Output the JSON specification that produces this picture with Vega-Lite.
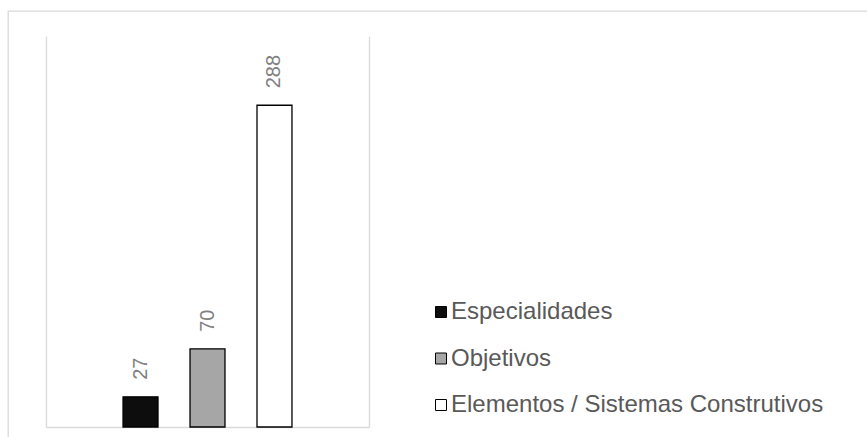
{
  "$schema": "https://vega.github.io/schema/vega-lite/v6.json",
  "width": 870,
  "height": 440,
  "autosize": {"type": "none"},
  "padding": {"left": 8, "top": 11, "right": 0, "bottom": 0},
  "background": "white",
  "data": {"values": [
    {"serie": "Especialidades", "valor": 27},
    {"serie": "Objetivos", "valor": 70},
    {"serie": "Elementos / Sistemas Construtivos", "valor": 288}
  ]},
  "encoding": {
    "x": {"field": "serie", "type": "nominal", "sort": null,
      "scale": {"domain": [" ", "Especialidades", "Objetivos", "Elementos / Sistemas Construtivos", "  "], "range": [38, 361], "paddingInner": 0.478, "paddingOuter": 0.15},
      "axis": {"orient": "bottom", "offset": -24, "labels": false, "ticks": false, "title": null, "domainColor": "#d9d9d9", "domainWidth": 1.3, "grid": false}}
  },
  "layer": [
    {
      "mark": {"type": "bar", "stroke": "#000000", "strokeWidth": 1.3},
      "encoding": {
        "y": {"field": "valor", "type": "quantitative",
          "scale": {"domain": [0, 350], "range": [416, 25], "nice": false},
          "axis": {"orient": "left", "offset": -38, "labels": false, "ticks": false, "title": null, "grid": false, "domainColor": "#d9d9d9", "domainWidth": 1.3}},
        "fill": {"field": "serie", "type": "nominal", "sort": null,
          "scale": {"domain": ["Especialidades", "Objetivos", "Elementos / Sistemas Construtivos"], "range": ["#0d0d0d", "#a6a6a6", "#ffffff"]},
          "legend": {"orient": "none", "legendX": 421, "legendY": 289, "title": null, "symbolType": "square", "symbolSize": 121, "symbolStrokeColor": "#000000", "symbolStrokeWidth": 1, "labelFontSize": 24, "labelColor": "#595959", "labelFont": "Liberation Sans", "rowPadding": 22.5, "labelOffset": -2, "padding": 0, "labelLimit": 600}}
      }
    },
    {
      "mark": {"type": "text", "angle": 270, "align": "left", "baseline": "middle", "dx": 17, "fontSize": 20, "color": "#808080", "font": "Liberation Sans"},
      "encoding": {
        "y": {"field": "valor", "type": "quantitative",
          "scale": {"domain": [0, 350], "range": [416, 25], "nice": false},
          "axis": {"orient": "right", "offset": -509, "labels": false, "ticks": false, "title": null, "grid": false, "domainColor": "#d9d9d9", "domainWidth": 1.3}},
        "text": {"field": "valor", "type": "quantitative"}
      }
    }
  ],
  "resolve": {"axis": {"y": "independent"}},
  "config": {
    "view": {"stroke": "#d9d9d9", "strokeWidth": 1.3},
    "font": "Liberation Sans"
  }
}
